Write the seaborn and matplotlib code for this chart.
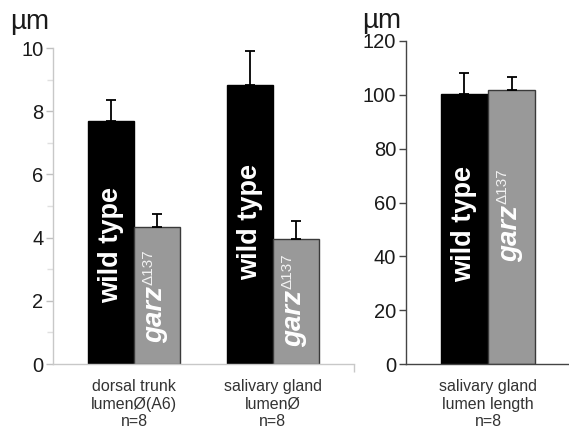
import matplotlib
matplotlib.use("Agg")
import matplotlib.pyplot as plt
import seaborn as sns
import pandas as pd

# ---- data ----
genotypes = ["wild type", "garz"]
left_categories = ["dorsal trunk\nlumenØ(A6)\nn=8", "salivary gland\nlumenØ\nn=8"]
left_wt = [7.70, 8.82]
left_wt_err = [0.64, 1.07]
left_garz = [4.34, 3.96]
left_garz_err = [0.41, 0.56]

right_categories = ["salivary gland\nlumen length\nn=8"]
right_wt = [100.2]
right_wt_err = [7.8]
right_garz = [101.8]
right_garz_err = [5.0]

left_yticks = [0, 2, 4, 6, 8, 10]
left_yminor = [1, 3, 5, 7, 9]
right_yticks = [0, 20, 40, 60, 80, 100, 120]
unit_label = "µm"

sns.set_theme(style="white")
plt.rcParams["font.family"] = ["Liberation Sans", "DejaVu Sans"]

fig = plt.figure(figsize=(5.69, 4.29), dpi=100)
W, H = 569, 429

def ax_rect(x0, x1, y0, y1):
    return [x0 / W, (H - y0) / H, (x1 - x0) / W, (y0 - y1) / H]

axL = fig.add_axes(ax_rect(53, 354, 364, 48))
axR = fig.add_axes(ax_rect(406, 569, 364, 41))

palette = {"wild type": "#000000", "garz": "#999999"}
edge = {"wild type": "#000000", "garz": "#3a3a3a"}

def make_df(cats, wt, gz):
    rows = []
    for c, a, b in zip(cats, wt, gz):
        rows.append({"category": c, "genotype": "wild type", "value": a})
        rows.append({"category": c, "genotype": "garz", "value": b})
    return pd.DataFrame(rows)

def draw(ax, cats, wt, wt_err, gz, gz_err):
    df = make_df(cats, wt, gz)
    sns.barplot(data=df, x="category", y="value", hue="genotype",
                hue_order=genotypes, order=cats, palette=palette,
                width=0.662, gap=0, errorbar=None, legend=False, ax=ax,
                saturation=1)
    errs = {"wild type": wt_err, "garz": gz_err}
    for g, cont in zip(genotypes, ax.containers):
        for bar, e in zip(cont, errs[g]):
            bar.set_edgecolor(edge[g])
            bar.set_linewidth(1.0)
            xc = bar.get_x() + bar.get_width() / 2
            h = bar.get_height()
            ax.errorbar([xc], [h], yerr=[[0], [e]], fmt="none", ecolor="black",
                        elinewidth=1.3, capsize=3.8, capthick=1.3, zorder=1)
    # category labels (multi-line)
    ax.set_xticks(range(len(cats)))
    ax.set_xticklabels([])
    for i, c in enumerate(cats):
        ax.annotate(c, xy=(i, 0), xycoords=("data", "axes fraction"),
                    xytext=(0, -11), textcoords="offset points",
                    ha="center", va="top", fontsize=11.5, color="#333333",
                    linespacing=1.2)
    return df

draw(axL, left_categories, left_wt, left_wt_err, left_garz, left_garz_err)
draw(axR, right_categories, right_wt, right_wt_err, right_garz, right_garz_err)

# ---- left axes styling ----
axL.set_xlim(-0.583, 1.583)
axL.set_ylim(0, 10)
axL.set_yticks(left_yticks)
axL.set_yticks(left_yminor, minor=True)
axL.set_xticks([1.583], minor=True)
for s in ["top", "right"]:
    axL.spines[s].set_visible(False)
for s in ["left", "bottom"]:
    axL.spines[s].set_color("#c8c8c8")
    axL.spines[s].set_linewidth(1.0)
axL.tick_params(axis="y", which="major", left=True, length=5, width=1,
                color="#c0c0c0", labelsize=14.5, labelcolor="#1a1a1a", pad=2)
axL.tick_params(axis="y", which="minor", left=True, length=4, width=1,
                color="#e0e0e0")
axL.tick_params(axis="x", which="major", bottom=False, length=0)
axL.tick_params(axis="x", which="minor", bottom=True, length=6, width=1,
                color="#c8c8c8")

# ---- right axes styling ----
axR.set_xlim(-0.577, 0.57)
axR.set_ylim(0, 120)
axR.set_yticks(right_yticks)
for s in ["top", "right"]:
    axR.spines[s].set_visible(False)
for s in ["left", "bottom"]:
    axR.spines[s].set_color("#444444")
    axR.spines[s].set_linewidth(1.0)
axR.tick_params(axis="y", which="major", left=True, length=5, width=1,
                color="#444444", labelsize=14.5, labelcolor="#1a1a1a", pad=2)
axR.tick_params(axis="x", which="major", bottom=False, length=0)

for ax in (axL, axR):
    ax.set_xlabel("")
    ax.set_ylabel("")
    ax.set_facecolor("white")

# ---- in-bar labels ----
def bar_labels(ax, wt_start, gz_start):
    fig.canvas.draw()
    r = fig.canvas.get_renderer()
    wt_bars, gz_bars = ax.containers[0], ax.containers[1]
    for bar, ys in zip(wt_bars, wt_start):
        xc = bar.get_x() + bar.get_width() / 2
        ax.annotate("wild type", xy=(xc, ys), xycoords="data",
                    xytext=(5.0, 0), textcoords="offset points",
                    rotation=90, rotation_mode="anchor", ha="left",
                    va="baseline", color="white", fontsize=19.5,
                    fontweight="bold")
    for bar, ys in zip(gz_bars, gz_start):
        xc = bar.get_x() + bar.get_width() / 2
        t = ax.annotate("garz", xy=(xc, ys), xycoords="data",
                        xytext=(4.0, 0), textcoords="offset points",
                        rotation=90, rotation_mode="anchor", ha="left",
                        va="baseline", color="white", fontsize=20,
                        fontweight="bold", fontstyle="italic")
        fig.canvas.draw()
        bb = t.get_window_extent(r)
        dy = (bb.y1 - ax.transData.transform((xc, ys))[1]) * 72 / fig.dpi
        ax.annotate("Δ137", xy=(xc, ys), xycoords="data",
                    xytext=(-3.3, dy + 0.5), textcoords="offset points",
                    rotation=90, rotation_mode="anchor", ha="left",
                    va="baseline", color="#f2f2f2", fontsize=11)

bar_labels(axL, [1.93, 2.66], [0.66, 0.54])
bar_labels(axR, [30.5], [37.9])

# ---- unit labels ----
fig.text(10 / W, (H - 29) / H, unit_label, fontsize=20, color="#1a1a1a",
         ha="left", va="baseline")
fig.text(362 / W, (H - 28) / H, unit_label, fontsize=20, color="#1a1a1a",
         ha="left", va="baseline")

fig.savefig("out.png", dpi=100, facecolor="white")
